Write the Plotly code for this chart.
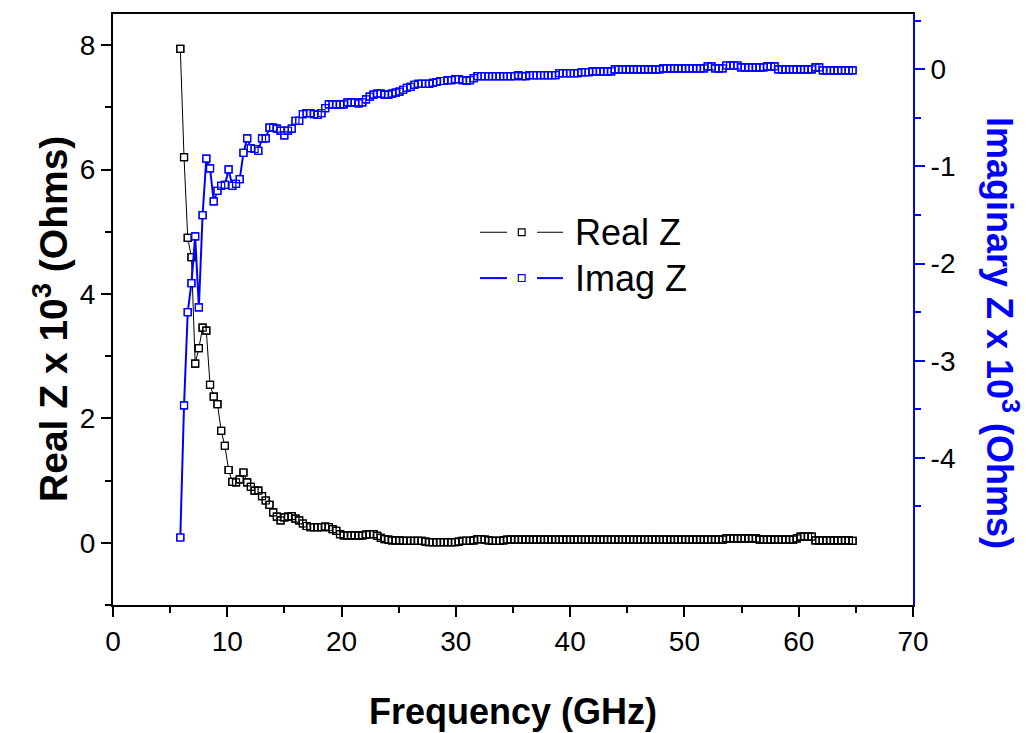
import plotly.graph_objects as go

# Frequency sweep points (GHz)
freq = [
    5.89, 6.215, 6.54, 6.865, 7.19, 7.515, 7.84, 8.165, 8.49, 8.815, 9.14, 9.465,
    9.79, 10.115, 10.44, 10.765, 11.09, 11.415, 11.74, 12.065, 12.39, 12.715, 13.04, 13.365,
    13.69, 14.015, 14.34, 14.665, 14.99, 15.315, 15.64, 15.965, 16.29, 16.615, 16.94, 17.265,
    17.59, 17.915, 18.24, 18.565, 18.89, 19.215, 19.54, 19.865, 20.19, 20.515, 20.84, 21.165,
    21.49, 21.815, 22.14, 22.465, 22.79, 23.115, 23.44, 23.765, 24.09, 24.415, 24.74, 25.065,
    25.39, 25.715, 26.04, 26.365, 26.69, 27.015, 27.34, 27.665, 27.99, 28.315, 28.64, 28.965,
    29.29, 29.615, 29.94, 30.265, 30.59, 30.915, 31.24, 31.565, 31.89, 32.215, 32.54, 32.865,
    33.19, 33.515, 33.84, 34.165, 34.49, 34.815, 35.14, 35.465, 35.79, 36.115, 36.44, 36.765,
    37.09, 37.415, 37.74, 38.065, 38.39, 38.715, 39.04, 39.365, 39.69, 40.015, 40.34, 40.665,
    40.99, 41.315, 41.64, 41.965, 42.29, 42.615, 42.94, 43.265, 43.59, 43.915, 44.24, 44.565,
    44.89, 45.215, 45.54, 45.865, 46.19, 46.515, 46.84, 47.165, 47.49, 47.815, 48.14, 48.465,
    48.79, 49.115, 49.44, 49.765, 50.09, 50.415, 50.74, 51.065, 51.39, 51.715, 52.04, 52.365,
    52.69, 53.015, 53.34, 53.665, 53.99, 54.315, 54.64, 54.965, 55.29, 55.615, 55.94, 56.265,
    56.59, 56.915, 57.24, 57.565, 57.89, 58.215, 58.54, 58.865, 59.19, 59.515, 59.84, 60.165,
    60.49, 60.815, 61.14, 61.465, 61.79, 62.115, 62.44, 62.765, 63.09, 63.415, 63.74, 64.065,
    64.39, 64.715,
]

# Real part of Z (x 10^3 Ohms)
real_z = [
    7.94, 6.20, 4.90, 4.59, 2.88, 3.13, 3.46, 3.41, 2.54, 2.35,
    2.23, 1.80, 1.56, 1.17, 0.98, 0.97, 1.02, 1.13, 0.97, 0.90,
    0.84, 0.84, 0.75, 0.68, 0.61, 0.49, 0.42, 0.36, 0.41, 0.42,
    0.43, 0.39, 0.36, 0.31, 0.27, 0.25, 0.25, 0.25, 0.25, 0.26,
    0.25, 0.22, 0.19, 0.14, 0.12, 0.12, 0.12, 0.12, 0.11, 0.12,
    0.13, 0.14, 0.14, 0.11, 0.08, 0.06, 0.05, 0.04, 0.04, 0.04,
    0.03, 0.03, 0.03, 0.03, 0.03, 0.03, 0.02, 0.01, 0.01, 0.01,
    0.01, 0.01, 0.01, 0.01, 0.01, 0.02, 0.03, 0.03, 0.03, 0.04,
    0.06, 0.06, 0.05, 0.04, 0.03, 0.03, 0.03, 0.04, 0.05, 0.05,
    0.05, 0.05, 0.05, 0.05, 0.05, 0.05, 0.05, 0.05, 0.05, 0.05,
    0.05, 0.05, 0.05, 0.05, 0.05, 0.05, 0.05, 0.05, 0.05, 0.05,
    0.05, 0.05, 0.05, 0.05, 0.05, 0.05, 0.05, 0.05, 0.05, 0.05,
    0.05, 0.05, 0.05, 0.05, 0.05, 0.05, 0.05, 0.05, 0.05, 0.05,
    0.05, 0.05, 0.05, 0.05, 0.05, 0.05, 0.05, 0.05, 0.05, 0.05,
    0.05, 0.05, 0.05, 0.05, 0.05, 0.05, 0.05, 0.07, 0.07, 0.07,
    0.07, 0.07, 0.07, 0.07, 0.07, 0.07, 0.05, 0.05, 0.05, 0.05,
    0.05, 0.05, 0.05, 0.05, 0.05, 0.05, 0.07, 0.10, 0.10, 0.10,
    0.10, 0.04, 0.04, 0.04, 0.04, 0.04, 0.04, 0.04, 0.04, 0.04,
    0.04, 0.03,
]

# Imaginary part of Z (x 10^3 Ohms)
imag_z = [
    -4.82, -3.46, -2.50, -2.20, -1.72, -2.45, -1.50, -0.92, -1.02, -1.36,
    -1.25, -1.20, -1.19, -1.03, -1.20, -1.18, -1.13, -0.86, -0.71, -0.81,
    -0.82, -0.84, -0.71, -0.71, -0.60, -0.60, -0.61, -0.63, -0.68, -0.63,
    -0.61, -0.53, -0.53, -0.46, -0.45, -0.45, -0.46, -0.47, -0.45, -0.40,
    -0.36, -0.36, -0.36, -0.36, -0.36, -0.34, -0.34, -0.34, -0.35, -0.34,
    -0.31, -0.28, -0.26, -0.25, -0.25, -0.26, -0.26, -0.25, -0.24, -0.23,
    -0.21, -0.19, -0.18, -0.16, -0.15, -0.15, -0.15, -0.15, -0.14, -0.13,
    -0.12, -0.12, -0.11, -0.11, -0.10, -0.10, -0.11, -0.12, -0.11, -0.09,
    -0.07, -0.07, -0.07, -0.07, -0.07, -0.07, -0.07, -0.07, -0.07, -0.07,
    -0.07, -0.06, -0.07, -0.07, -0.06, -0.06, -0.06, -0.06, -0.06, -0.06,
    -0.06, -0.06, -0.04, -0.04, -0.04, -0.04, -0.04, -0.04, -0.03, -0.03,
    -0.03, -0.02, -0.02, -0.02, -0.02, -0.02, -0.02, 0.00, 0.00, 0.00,
    0.00, 0.00, 0.00, 0.00, 0.00, 0.00, 0.00, 0.00, 0.00, 0.00,
    0.01, 0.01, 0.01, 0.01, 0.01, 0.01, 0.01, 0.01, 0.01, 0.01,
    0.01, 0.01, 0.03, 0.03, 0.01, 0.01, 0.01, 0.04, 0.04, 0.04,
    0.04, 0.02, 0.02, 0.02, 0.02, 0.02, 0.02, 0.02, 0.03, 0.03,
    0.03, 0.00, 0.00, 0.00, 0.00, 0.00, 0.00, 0.00, 0.00, 0.00,
    0.00, 0.02, 0.02, -0.01, -0.01, -0.01, -0.01, -0.01, -0.01, -0.01,
    -0.01, -0.01,
]

# Axis ticks
x_ticks = [0, 10, 20, 30, 40, 50, 60, 70]
left_ticks = [0, 2, 4, 6, 8]
right_ticks = [0, -1, -2, -3, -4]
right_tick_text = ["0", "-1", "-2", "-3", "-4"]
right_minor = [0.5, -0.5, -1.5, -2.5, -3.5, -4.5]

series_names = ["Real Z", "Imag Z"]

BLACK = "#000000"
BLUE = "#0000FF"
FONT = "Liberation Sans, Arial, sans-serif"

fig = go.Figure()


def add_series(y, color, line_width, yaxis):
    # connecting line
    fig.add_trace(go.Scatter(x=freq, y=y, mode="lines", yaxis=yaxis,
                             line=dict(color=color, width=line_width),
                             showlegend=False, hoverinfo="skip"))
    # white-filled squares hide the line inside each marker
    fig.add_trace(go.Scatter(x=freq, y=y, mode="markers", yaxis=yaxis,
                             marker=dict(symbol="square", size=7, color="white",
                                         line=dict(color=color, width=1.2)),
                             showlegend=False, hoverinfo="skip"))
    # open outlines on top so overlapping squares all stay visible
    fig.add_trace(go.Scatter(x=freq, y=y, mode="markers", yaxis=yaxis,
                             marker=dict(symbol="square-open", size=7, color=color,
                                         line=dict(width=1.2)),
                             showlegend=False))


add_series(real_z, BLACK, 1, "y")
add_series(imag_z, BLUE, 2, "y2")

# plot frame geometry in pixels
W, H = 1026, 733
L, R, T, B = 113, 113, 12, 128
pw, ph = W - L - R, H - T - B


def px(xp):
    return (xp - L) / pw


def py(yp):
    return (H - B - yp) / ph


tick_font = dict(family=FONT, size=28, color=BLACK)

fig.update_layout(
    width=W, height=H,
    margin=dict(l=L, r=R, t=T, b=B),
    paper_bgcolor="white", plot_bgcolor="white",
    font=dict(family=FONT),
    showlegend=False,
    xaxis=dict(range=[0, 70], tickvals=x_ticks, ticks="outside", ticklen=10,
               tickwidth=2, tickcolor=BLACK, showline=True, linewidth=2,
               linecolor=BLACK, mirror=True, showgrid=False, zeroline=False,
               tickfont=tick_font,
               minor=dict(dtick=5, ticks="outside", ticklen=6, tickwidth=2,
                          tickcolor=BLACK, showgrid=False)),
    yaxis=dict(range=[-1, 8.5], tickvals=left_ticks, ticks="outside", ticklen=10,
               tickwidth=2, tickcolor=BLACK, showline=True, linewidth=2,
               linecolor=BLACK, showgrid=False, zeroline=False,
               tickfont=tick_font,
               minor=dict(dtick=1, ticks="outside", ticklen=6, tickwidth=2,
                          tickcolor=BLACK, showgrid=False)),
    yaxis2=dict(range=[-5.515, 0.57], overlaying="y", side="right",
                tickvals=right_ticks, ticktext=right_tick_text,
                ticks="outside", ticklen=10, tickwidth=2, tickcolor=BLUE,
                showline=True, linewidth=2, linecolor=BLUE, showgrid=False,
                zeroline=False, tickfont=tick_font,
                minor=dict(tickvals=right_minor, ticks="outside", ticklen=6,
                           tickwidth=2, tickcolor=BLUE, showgrid=False)),
)

fig.add_annotation(text="<b>Frequency (GHz)</b>", xref="paper", yref="paper",
                   x=px(513), y=py(712), xanchor="center", yanchor="middle",
                   showarrow=False, font=dict(family=FONT, size=36, color=BLACK))
fig.add_annotation(text="<b>Real Z x 10<sup>3</sup> (Ohms)</b>", xref="paper", yref="paper",
                   x=px(51), y=py(318), xanchor="center", yanchor="middle",
                   textangle=-90, showarrow=False,
                   font=dict(family=FONT, size=39, color=BLACK))
fig.add_annotation(text="<b>Imaginary Z x 10<sup>3</sup> (Ohms)</b>", xref="paper",
                   yref="paper", x=px(1002), y=py(332), xanchor="center",
                   yanchor="middle", textangle=90, showarrow=False,
                   font=dict(family=FONT, size=36, color=BLUE))

# legend: line - square - line, followed by the series name
legend_rows = [(231, BLACK, 1), (277, BLUE, 2)]
for name, (row_y, color, lw) in zip(series_names, legend_rows):
    for x0, x1 in [(480, 507), (537, 563)]:
        fig.add_shape(type="line", xref="paper", yref="paper",
                      x0=px(x0), x1=px(x1), y0=py(row_y), y1=py(row_y),
                      line=dict(color=color, width=lw))
    fig.add_shape(type="rect", xref="paper", yref="paper",
                  x0=px(518.3), x1=px(525.1), y0=py(row_y + 3.4), y1=py(row_y - 3.4),
                  fillcolor="white", line=dict(color=color, width=1.2))
    fig.add_annotation(text=name, xref="paper", yref="paper",
                       x=px(573), y=py(row_y), xanchor="left", yanchor="middle",
                       showarrow=False, font=dict(family=FONT, size=36, color=BLACK))

fig.write_html("out.html")
